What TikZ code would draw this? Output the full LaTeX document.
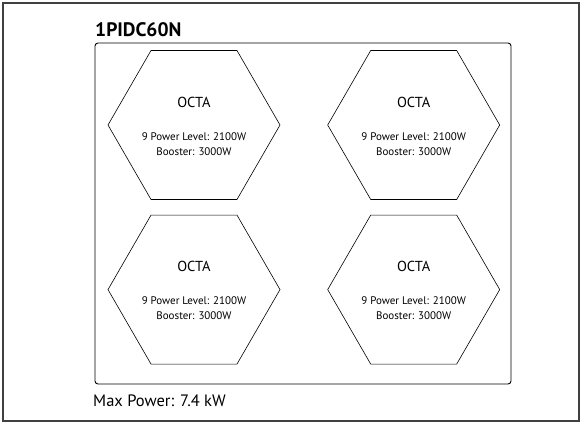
\documentclass[tikz,border=0pt]{standalone}
\usepackage{fontspec}
\setmainfont{PT Sans}
\usetikzlibrary{shapes.geometric, positioning}
\tikzset{
    frame/.style = {draw=black!75, line width=2pt},
    panel/.style = {draw=black, line width=0.9pt, rounded corners=3pt},
    zone/.style = {regular polygon, regular polygon sides=6, minimum size=172pt, inner sep=0pt, draw=black, line width=0.6pt},
    zonename/.style = {font=\fontsize{14.5}{17}\selectfont, inner sep=0pt},
    zoneinfo/.style = {font=\fontsize{11}{15}\selectfont, align=center, inner sep=0pt},
    model/.style = {font=\fontsize{19.5}{22}\selectfont\bfseries, anchor=base west, inner sep=0pt},
    caption/.style = {font=\fontsize{16.5}{19}\selectfont, anchor=base west, inner sep=0pt}
}

\begin{document}
\begin{tikzpicture}[x=1pt, y=1pt]
\useasboundingbox (0,0) rectangle (584,-422);

% Outer frame and hob panel
\draw [frame] (3,-3) rectangle (579,-421);
\draw [panel] (95,-43) rectangle (511,-384);

% Title and total power
\node (model) [model] at (95,-37) {1PIDC60N};
\node (maxpower) [caption] at (93,-406) {Max Power: 7.4 kW};

% Cooking zones
\node (zoneA) [zone] at (194,-125) {};
\node (zoneB) [zone, right=47pt of zoneA] {};
\node (zoneC) [zone, below=15pt of zoneA] {};
\node (zoneD) [zone, right=47pt of zoneC] {};

% Zone texts
\node (nameA) [zonename] at ([yshift=23pt]zoneA.center) {OCTA};
\node (infoA) [zoneinfo] at ([yshift=-19pt]zoneA.center) {9 Power Level: 2100W\\Booster: 3000W};
\node (nameB) [zonename] at ([yshift=23pt]zoneB.center) {OCTA};
\node (infoB) [zoneinfo] at ([yshift=-19pt]zoneB.center) {9 Power Level: 2100W\\Booster: 3000W};
\node (nameC) [zonename] at ([yshift=23pt]zoneC.center) {OCTA};
\node (infoC) [zoneinfo] at ([yshift=-19pt]zoneC.center) {9 Power Level: 2100W\\Booster: 3000W};
\node (nameD) [zonename] at ([yshift=23pt]zoneD.center) {OCTA};
\node (infoD) [zoneinfo] at ([yshift=-19pt]zoneD.center) {9 Power Level: 2100W\\Booster: 3000W};

\end{tikzpicture}
\end{document}
